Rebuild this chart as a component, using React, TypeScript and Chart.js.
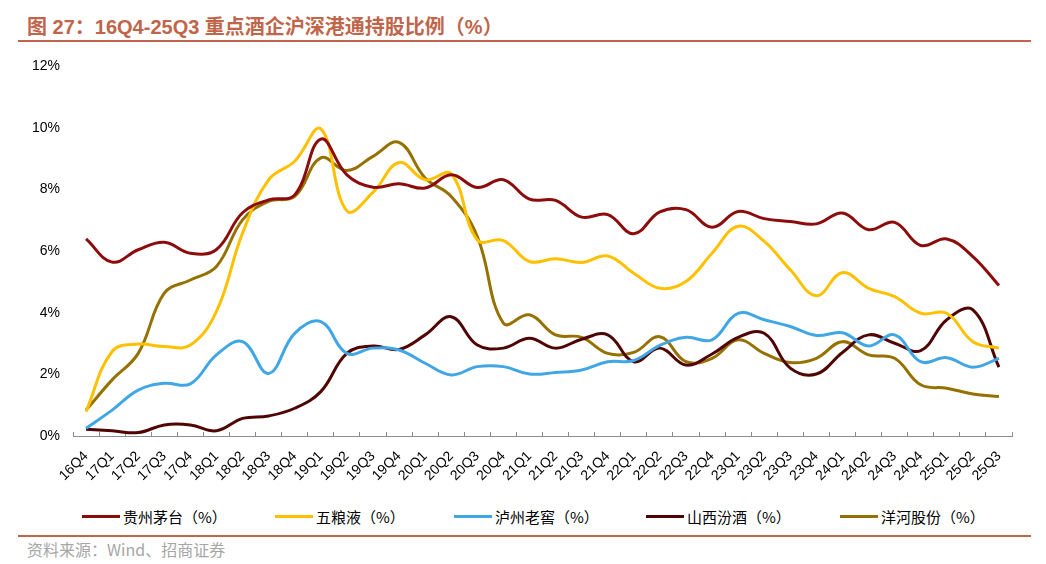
import React, { useEffect, useRef } from "react";
import { Chart, registerables } from "chart.js";

Chart.register(...registerables);

const categories = [
  "16Q4", "17Q1", "17Q2", "17Q3", "17Q4", "18Q1", "18Q2", "18Q3", "18Q4",
  "19Q1", "19Q2", "19Q3", "19Q4", "20Q1", "20Q2", "20Q3", "20Q4",
  "21Q1", "21Q2", "21Q3", "21Q4", "22Q1", "22Q2", "22Q3", "22Q4",
  "23Q1", "23Q2", "23Q3", "23Q4", "24Q1", "24Q2", "24Q3", "24Q4",
  "25Q1", "25Q2", "25Q3",
];

const moutai = [6.39, 5.64, 6.04, 6.28, 5.93, 6.05, 7.24, 7.66, 7.82, 9.63, 8.47, 8.07, 8.18, 8.04, 8.47, 8.06, 8.31, 7.68, 7.64, 7.1, 7.18, 6.56, 7.27, 7.34, 6.77, 7.28, 7.05, 6.96, 6.88, 7.23, 6.69, 6.93, 6.18, 6.39, 5.82, 4.88];
const wuliangye = [0.79, 2.74, 2.98, 2.9, 2.95, 4.04, 6.58, 8.31, 8.91, 9.96, 7.3, 7.9, 8.87, 8.31, 8.5, 6.36, 6.34, 5.66, 5.75, 5.63, 5.84, 5.28, 4.79, 5.01, 5.93, 6.8, 6.31, 5.39, 4.55, 5.3, 4.79, 4.52, 3.98, 3.98, 3.06, 2.85];
const luzhou = [0.25, 0.84, 1.49, 1.71, 1.69, 2.63, 3.06, 2.03, 3.33, 3.71, 2.68, 2.85, 2.79, 2.36, 1.98, 2.25, 2.25, 2.01, 2.06, 2.14, 2.41, 2.45, 2.94, 3.2, 3.12, 3.98, 3.77, 3.55, 3.26, 3.35, 2.92, 3.28, 2.41, 2.54, 2.23, 2.52];
const fenjiu = [0.22, 0.17, 0.11, 0.36, 0.36, 0.17, 0.57, 0.65, 0.9, 1.44, 2.68, 2.92, 2.81, 3.28, 3.87, 2.95, 2.85, 3.17, 2.85, 3.14, 3.28, 2.41, 2.85, 2.3, 2.66, 3.2, 3.33, 2.2, 2.01, 2.71, 3.28, 3.01, 2.77, 3.77, 4.09, 2.23];
const yanghe = [0.84, 1.82, 2.68, 4.63, 5.06, 5.5, 7.01, 7.61, 7.77, 9.02, 8.61, 9.07, 9.52, 8.37, 7.77, 6.47, 3.66, 3.93, 3.28, 3.2, 2.68, 2.71, 3.22, 2.41, 2.52, 3.12, 2.68, 2.38, 2.52, 3.06, 2.63, 2.52, 1.66, 1.55, 1.36, 1.28];

const seriesNames = ["贵州茅台（%）", "五粮液（%）", "泸州老窖（%）", "山西汾酒（%）", "洋河股份（%）"];
const seriesColors = ["#8C0C0C", "#FFC000", "#41A6E6", "#500505", "#957100"];
const seriesData = [moutai, wuliangye, luzhou, fenjiu, yanghe];
const legendX = [82, 275, 454, 646, 840];

const yTicks = [0, 2, 4, 6, 8, 10, 12];

const TITLE = "图 27：16Q4-25Q3 重点酒企沪深港通持股比例（%）";
const SOURCE = "资料来源：Wind、招商证券";

export default function App() {
  const canvasRef = useRef<HTMLCanvasElement | null>(null);

  useEffect(() => {
    if (!canvasRef.current) return;
    const chart = new Chart(canvasRef.current, {
      type: "line",
      data: {
        labels: categories,
        datasets: seriesData.map((d, i) => ({
          label: seriesNames[i],
          data: d,
          borderColor: seriesColors[i],
          backgroundColor: seriesColors[i],
          borderWidth: 3,
          pointRadius: 0,
          pointHoverRadius: 0,
          tension: 0.4,
          fill: false,
        })),
      },
      options: {
        animation: false,
        responsive: false,
        maintainAspectRatio: false,
        layout: { padding: { left: 13, right: 34, top: 26, bottom: 0 } },
        plugins: {
          legend: { display: false },
          title: { display: false },
          tooltip: { enabled: false },
        },
        scales: {
          x: {
            type: "category",
            offset: true,
            border: { display: true, color: "#8C8C8C", width: 1 },
            grid: {
              offset: true,
              drawOnChartArea: false,
              drawTicks: true,
              tickLength: -4,
              color: "#8C8C8C",
            },
            ticks: {
              autoSkip: false,
              maxRotation: 45,
              minRotation: 45,
              padding: 16,
              color: "#000",
              font: { family: "'Liberation Sans', Arial, sans-serif", size: 14 },
            },
            afterFit: (scale: any) => {
              scale.height = 64;
            },
          },
          y: {
            min: 0,
            max: 12,
            border: { display: false },
            grid: { display: false, drawTicks: false },
            afterBuildTicks: (scale: any) => {
              scale.ticks = yTicks.map((v) => ({ value: v }));
            },
            ticks: {
              padding: 13,
              color: "#000",
              font: { family: "'Liberation Sans', Arial, sans-serif", size: 14 },
              callback: (v: any) => `${v}%`,
            },
            afterFit: (scale: any) => {
              scale.width = 60;
            },
          },
        },
      },
    });
    return () => chart.destroy();
  }, []);

  return (
    <div style={{ position: "fixed", left: 0, top: 0, width: 1046, height: 564, background: "#fff", overflow: "hidden" }}>
      <div
        style={{
          position: "absolute",
          left: 27,
          top: 14,
          fontFamily: "'Liberation Sans', 'Noto Sans CJK SC', sans-serif",
          fontWeight: "bold",
          fontSize: 20,
          lineHeight: "26px",
          color: "#C0654A",
          whiteSpace: "nowrap",
        }}
      >
        {TITLE}
      </div>
      <div style={{ position: "absolute", left: 18, top: 40, width: 1013, height: 2, background: "#C0654A" }} />
      <canvas ref={canvasRef} width={1046} height={460} style={{ position: "absolute", left: 0, top: 40, width: 1046, height: 460 }} />
      {seriesNames.map((name, i) => (
        <div key={name} style={{ position: "absolute", left: legendX[i], top: 505, height: 22, display: "flex", alignItems: "center", whiteSpace: "nowrap" }}>
          <div style={{ width: 38, height: 3, background: seriesColors[i], marginRight: 3 }} />
          <span style={{ fontFamily: "'Noto Sans CJK SC', sans-serif", fontSize: 15, color: "#000" }}>{name}</span>
        </div>
      ))}
      <div style={{ position: "absolute", left: 18, top: 535, width: 1013, height: 2, background: "#C0654A" }} />
      <div
        style={{
          position: "absolute",
          left: 27,
          top: 539,
          fontFamily: "'Noto Sans CJK SC', sans-serif",
          fontSize: 16,
          lineHeight: "20px",
          color: "#A6A6A6",
          whiteSpace: "nowrap",
        }}
      >
        {SOURCE}
      </div>
    </div>
  );
}
